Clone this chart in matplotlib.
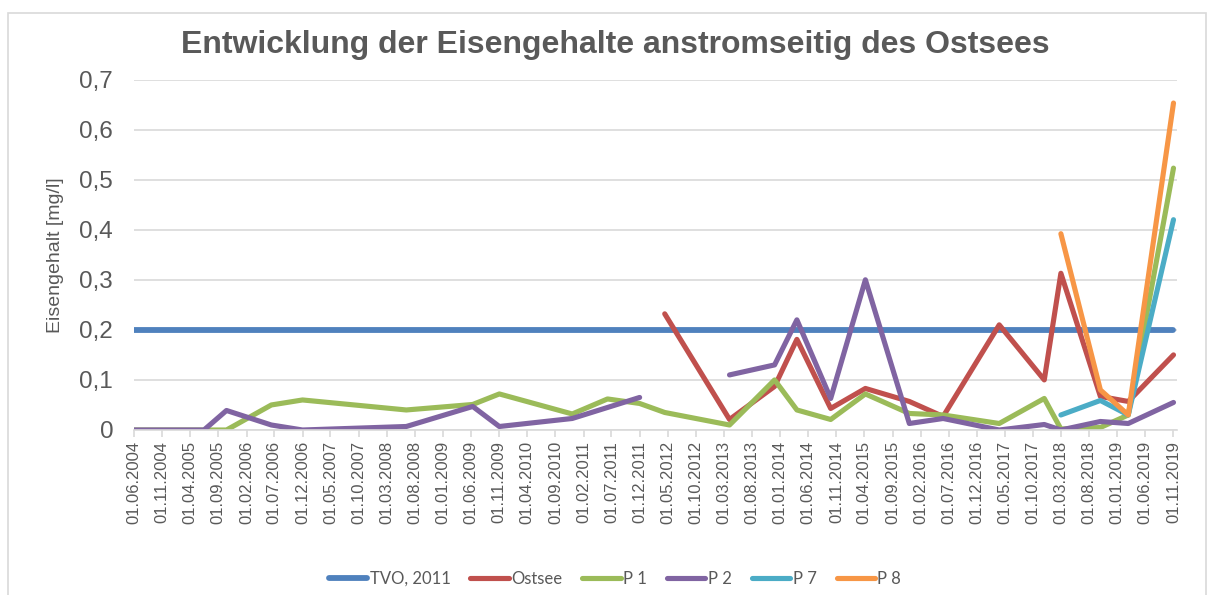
import numpy as np
import pandas as pd
import matplotlib
matplotlib.use("Agg")
import matplotlib.pyplot as plt
import matplotlib.dates as mdates
from matplotlib.patches import Rectangle

# sampling dates
dates = pd.to_datetime([
    "2004-06-01", "2005-06-15", "2005-10-15", "2006-06-15", "2006-12-01",
    "2008-06-15", "2009-06-10", "2009-11-01", "2010-12-01", "2011-06-10",
    "2011-12-01", "2012-04-15", "2013-04-01", "2013-12-01", "2014-04-01",
    "2014-10-01", "2015-04-07", "2015-12-01", "2016-06-01", "2017-04-01",
    "2017-12-01", "2018-03-01", "2018-10-01", "2019-03-01", "2019-11-01",
])
nan = np.nan

tvo_dates = pd.to_datetime(["2004-06-01", "2019-11-01"])
tvo = [0.2, 0.2]
ostsee = [nan, nan, nan, nan, nan, nan, nan, nan, nan, nan, nan,
          0.232, 0.021, 0.087, 0.181, 0.043, 0.083, 0.057, 0.027, 0.21,
          0.10, 0.313, 0.067, 0.057, 0.15]
p1 = [0, 0, 0, 0.05, 0.06, 0.04, 0.051, 0.072, 0.032, 0.062, 0.053,
      0.035, 0.01, 0.10, 0.04, 0.021, 0.072, 0.033, 0.03, 0.013,
      0.063, 0.002, 0.005, 0.03, 0.523]
p2 = [0, 0, 0.039, 0.01, 0, 0.007, 0.047, 0.007, 0.023, 0.045, 0.065,
      nan, 0.11, 0.13, 0.22, 0.063, 0.30, 0.013, 0.023, 0,
      0.011, 0, 0.017, 0.013, 0.055]
p7 = [nan, nan, nan, nan, nan, nan, nan, nan, nan, nan, nan,
      nan, nan, nan, nan, nan, nan, nan, nan, nan,
      nan, 0.03, 0.059, 0.03, 0.42]
p8 = [nan, nan, nan, nan, nan, nan, nan, nan, nan, nan, nan,
      nan, nan, nan, nan, nan, nan, nan, nan, nan,
      nan, 0.392, 0.08, 0.03, 0.653]

y_ticks = [0, 0.1, 0.2, 0.3, 0.4, 0.5, 0.6, 0.7]
y_labels = ["0", "0,1", "0,2", "0,3", "0,4", "0,5", "0,6", "0,7"]

grey = "#595959"
plt.rcParams["font.family"] = ["Liberation Sans", "DejaVu Sans"]

fig = plt.figure(figsize=(12.14, 5.95), dpi=100)
fig.patches.append(Rectangle((8 / 1214, -0.05), 1198 / 1214, 1.05 - 13 / 595,
                             transform=fig.transFigure, fill=False,
                             edgecolor="#d9d9d9", linewidth=1.2))

ax = fig.add_axes([134 / 1214, 1 - 430 / 595, (1177 - 134) / 1214, (430 - 79.5) / 595])

lw = 3.7
ax.plot(tvo_dates, tvo, color="#4F81BD", lw=4.2, solid_capstyle="round", label="TVO, 2011")
ax.plot(dates, ostsee, color="#C0504D", lw=lw, solid_capstyle="round", label="Ostsee")
ax.plot(dates, p1, color="#9BBB59", lw=lw, solid_capstyle="round", label="P 1")
ax.plot(dates, p2, color="#8064A2", lw=lw, solid_capstyle="round", label="P 2")
ax.plot(dates, p7, color="#4BACC6", lw=lw, solid_capstyle="round", label="P 7")
ax.plot(dates, p8, color="#F79646", lw=lw, solid_capstyle="round", label="P 8")

ax.set_ylim(0, 0.7)
ax.set_yticks(y_ticks)
ax.set_yticklabels(y_labels, fontsize=17.5, color=grey)
ax.set_xlim(pd.Timestamp("2004-06-01"), pd.Timestamp("2019-11-20"))
x_ticks = pd.date_range("2004-06-01", "2019-11-01", freq="5MS")
ax.set_xticks(x_ticks)
ax.xaxis.set_major_formatter(mdates.DateFormatter("%d.%m.%Y"))
plt.setp(ax.get_xticklabels(), rotation=90, fontsize=12, color=grey)

ax.grid(axis="y", color="#d9d9d9", lw=1.2)
ax.set_axisbelow(True)
for s in ["left", "right", "top"]:
    ax.spines[s].set_visible(False)
ax.spines["bottom"].set_color("#d9d9d9")
ax.spines["bottom"].set_linewidth(1.2)
ax.tick_params(axis="y", length=0, pad=15)
ax.tick_params(axis="x", length=5, color="#d9d9d9", width=1.2, pad=3)

ax.set_ylabel("Eisengehalt [mg/l]", fontsize=14, color=grey)
ax.yaxis.set_label_coords(-70 / 1043, 0.5)

fig.text(615 / 1214, 1 - 45 / 595, "Entwicklung der Eisengehalte anstromseitig des Ostsees",
         ha="center", va="center", fontsize=23, fontweight="bold", color=grey)

fig.legend(loc="center", bbox_to_anchor=(615 / 1214, 1 - 579 / 595), ncol=6,
           frameon=False, handlelength=2.3, handletextpad=0.15,
           columnspacing=1.2, labelcolor=grey, prop={"family": "Lato", "size": 12})

fig.savefig("out.png", dpi=100)
